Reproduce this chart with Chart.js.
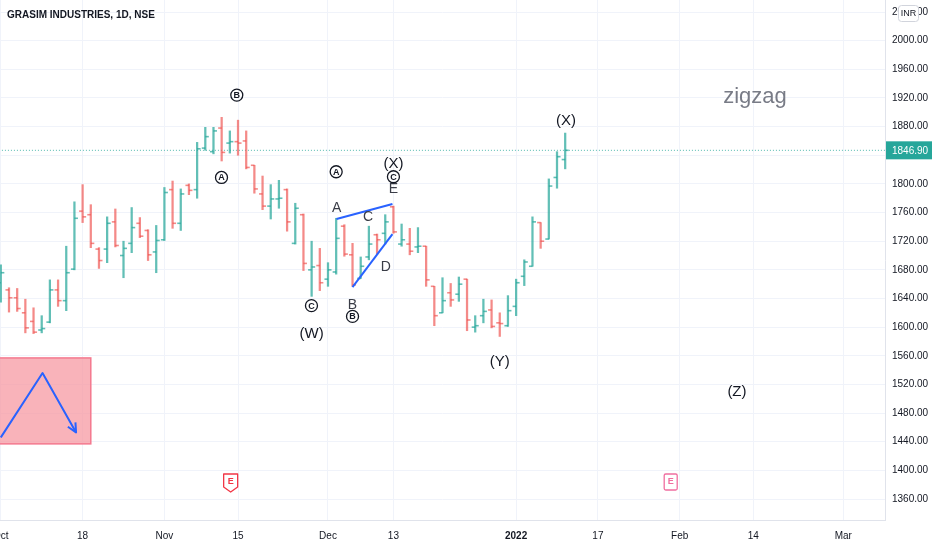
<!DOCTYPE html>
<html>
<head>
<meta charset="utf-8">
<script src="https://cdn.jsdelivr.net/npm/chart.js@4.4.1/dist/chart.umd.min.js"></script>
<style>
  html, body { margin: 0; padding: 0; background: #fff; }
</style>
</head>
<body>
<canvas id="ohlcChart" width="932" height="550"></canvas>
<script>
// GRASIM daily bars, Oct 2021 - Jan 2022
const dates = [
  '2021-10-01','2021-10-04','2021-10-05','2021-10-06','2021-10-07','2021-10-08','2021-10-11','2021-10-12','2021-10-13','2021-10-14',
  '2021-10-18','2021-10-19','2021-10-20','2021-10-21','2021-10-22','2021-10-25','2021-10-26','2021-10-27','2021-10-28','2021-10-29',
  '2021-11-01','2021-11-02','2021-11-03','2021-11-04','2021-11-08','2021-11-09','2021-11-10','2021-11-11','2021-11-12','2021-11-15',
  '2021-11-16','2021-11-17','2021-11-18','2021-11-22','2021-11-23','2021-11-24','2021-11-25','2021-11-26','2021-11-29','2021-11-30',
  '2021-12-01','2021-12-02','2021-12-03','2021-12-06','2021-12-07','2021-12-08','2021-12-09','2021-12-10','2021-12-13','2021-12-14',
  '2021-12-15','2021-12-16','2021-12-17','2021-12-20','2021-12-21','2021-12-22','2021-12-23','2021-12-24','2021-12-27','2021-12-28',
  '2021-12-29','2021-12-30','2021-12-31','2022-01-03','2022-01-04','2022-01-05','2022-01-06','2022-01-07','2022-01-10','2022-01-11'
];
const open = [
  1662,1652,1641,1620,1608,1596,1607,1652,1637,1681,
  1762,1757,1709,1709,1747,1700,1717,1745,1735,1705,
  1722,1792,1745,1798,1792,1850,1845,1878,1857,1859,
  1860,1826,1786,1769,1779,1792,1717,1757,1680,1686,
  1667,1677,1741,1701,1668,1698,1729,1731,1768,1716,
  1716,1712,1713,1657,1620,1648,1646,1667,1600,1616,
  1624,1606,1602,1629,1671,1685,1746,1723,1809,1834
];
const high = [
  1687,1655,1654,1639,1627,1616,1666,1666,1713,1775,
  1799,1771,1711,1754,1765,1720,1767,1753,1736,1742,
  1795,1804,1793,1800,1858,1879,1879,1893,1874,1889,
  1874,1826,1811,1799,1805,1793,1773,1758,1720,1710,
  1690,1752,1743,1717,1698,1741,1730,1757,1769,1744,
  1738,1739,1713,1657,1669,1661,1670,1667,1616,1639,
  1638,1620,1644,1667,1694,1754,1746,1807,1845,1871
];
const low = [
  1635,1621,1622,1592,1591,1592,1606,1629,1623,1680,
  1746,1711,1682,1690,1712,1669,1704,1725,1693,1676,
  1721,1738,1735,1785,1780,1847,1842,1832,1843,1840,
  1821,1787,1764,1751,1766,1734,1716,1679,1643,1651,
  1657,1674,1699,1657,1668,1694,1702,1716,1731,1713,
  1701,1704,1657,1602,1620,1629,1636,1595,1593,1606,
  1599,1587,1601,1616,1658,1685,1710,1723,1794,1821
];
const close = [
  1676,1641,1626,1599,1593,1598,1652,1637,1676,1752,
  1754,1717,1693,1745,1714,1710,1739,1727,1701,1721,
  1788,1745,1786,1791,1849,1866,1874,1844,1859,1857,
  1823,1793,1769,1779,1780,1747,1766,1689,1684,1662,
  1680,1724,1702,1659,1685,1716,1722,1747,1733,1722,
  1706,1713,1666,1616,1637,1638,1660,1610,1602,1622,
  1601,1605,1623,1662,1691,1747,1720,1797,1838,1846.9
];
const lastPrice = 1846.90;

// time axis: bar index where each label sits
const tickIdx = [0, 10, 20, 29, 40, 48, 63, 73, 83, 92, 103];
const tickLabels = ['Oct', '18', 'Nov', '15', 'Dec', '13', '2022', '17', 'Feb', '14', 'Mar'];
const priceTicks = [1360,1400,1440,1480,1520,1560,1600,1640,1680,1720,1760,1800,1840,1880,1920,1960,2000,2040];

// drawings on the chart, in [bar index, price]
const waveLabels = [[48.0, 1828, '(X)'], [69.1, 1888, '(X)'], [38.0, 1591, '(W)'], [61.0, 1551, '(Y)'], [90.0, 1509, '(Z)']];
const legLabels = [[48.0, 1793, 'E'], [41.05, 1766, 'A'], [44.9, 1754, 'C'], [47.07, 1684, 'D'], [43.0, 1631, 'B']];
const circledLabels = [[28.85, 1924, 'B'], [26.98, 1809, 'A'], [41.0, 1817, 'A'], [48.0, 1810, 'C'], [43.0, 1615, 'B'], [37.98, 1630, 'C']];
const trendLines = [[[41.04, 1751], [47.88, 1772]], [[43.0, 1656], [47.88, 1730]]];
const patternBox = [[-0.5, 1557], [11.0, 1437]];
const patternArrow = [[0, 1446], [5.1, 1536], [9.2, 1453]];
const earnings = [28.1, 81.9];

const FONT = "'Liberation Sans', Arial, sans-serif";
const UP = 'rgba(38,166,154,0.72)';
const DOWN = 'rgba(239,83,80,0.68)';
const barColors = close.map((c, i) => c >= open[i] ? UP : DOWN);

function roundRect(ctx, x, y, w, h, r) {
  ctx.beginPath();
  ctx.moveTo(x + r, y);
  ctx.lineTo(x + w - r, y);
  ctx.quadraticCurveTo(x + w, y, x + w, y + r);
  ctx.lineTo(x + w, y + h - r);
  ctx.quadraticCurveTo(x + w, y + h, x + w - r, y + h);
  ctx.lineTo(x + r, y + h);
  ctx.quadraticCurveTo(x, y + h, x, y + h - r);
  ctx.lineTo(x, y + r);
  ctx.quadraticCurveTo(x, y, x + r, y);
  ctx.closePath();
}

const drawings = {
  id: 'drawings',
  afterDatasetsDraw(chart) {
    const ctx = chart.ctx, xs = chart.scales.x, ys = chart.scales.y, area = chart.chartArea;
    const P = (pt) => [xs.getPixelForValue(pt[0]), ys.getPixelForValue(pt[1])];
    ctx.save();
    ctx.beginPath();
    ctx.rect(area.left, area.top, area.right - area.left, area.bottom - area.top);
    ctx.clip();

    // pink zigzag box
    const b0 = P(patternBox[0]), b1 = P(patternBox[1]);
    ctx.fillStyle = 'rgba(247,150,160,0.72)';
    ctx.fillRect(b0[0], b0[1], b1[0] - b0[0], b1[1] - b0[1]);
    ctx.strokeStyle = '#f4798f';
    ctx.lineWidth = 1.5;
    ctx.strokeRect(b0[0], b0[1], b1[0] - b0[0], b1[1] - b0[1]);

    ctx.strokeStyle = '#2962ff';
    ctx.lineWidth = 2;
    ctx.lineJoin = 'round';
    ctx.beginPath();
    patternArrow.forEach((pt, k) => { const q = P(pt); k ? ctx.lineTo(q[0], q[1]) : ctx.moveTo(q[0], q[1]); });
    ctx.stroke();
    const a1 = P(patternArrow[1]), a2 = P(patternArrow[2]);
    const ang = Math.atan2(a2[1] - a1[1], a2[0] - a1[0]);
    ctx.beginPath();
    ctx.moveTo(a2[0] - 10 * Math.cos(ang - 0.45), a2[1] - 10 * Math.sin(ang - 0.45));
    ctx.lineTo(a2[0], a2[1]);
    ctx.lineTo(a2[0] - 10 * Math.cos(ang + 0.45), a2[1] - 10 * Math.sin(ang + 0.45));
    ctx.stroke();

    // blue trend lines
    ctx.lineWidth = 2;
    trendLines.forEach(l => {
      const s = P(l[0]), e = P(l[1]);
      ctx.beginPath(); ctx.moveTo(s[0], s[1]); ctx.lineTo(e[0], e[1]); ctx.stroke();
    });

    // wave labels
    ctx.textAlign = 'center';
    ctx.textBaseline = 'middle';
    ctx.fillStyle = '#131722';
    ctx.font = '15px ' + FONT;
    waveLabels.forEach(w => { const q = P(w); ctx.fillText(w[2], q[0], q[1]); });
    ctx.fillStyle = '#3a3d47';
    ctx.font = '14px ' + FONT;
    legLabels.forEach(w => { const q = P(w); ctx.fillText(w[2], q[0], q[1]); });
    ctx.font = 'bold 9px ' + FONT;
    circledLabels.forEach(w => {
      const q = P(w);
      ctx.beginPath();
      ctx.arc(q[0], q[1], 6, 0, Math.PI * 2);
      ctx.strokeStyle = '#131722';
      ctx.lineWidth = 1.3;
      ctx.stroke();
      ctx.fillStyle = '#131722';
      ctx.fillText(w[2], q[0], q[1] + 0.5);
    });

    ctx.fillStyle = '#787b86';
    ctx.font = '22px ' + FONT;
    ctx.fillText('zigzag', xs.getPixelForValue(92.2), ys.getPixelForValue(1921));

    // earnings flags
    earnings.forEach((e, k) => {
      const x = xs.getPixelForValue(e), y = area.bottom - 46;
      const c = k === 0 ? '#f23645' : '#f06ea0';
      ctx.fillStyle = '#fff';
      ctx.strokeStyle = c;
      ctx.lineWidth = 1.3;
      if (k === 0) {
        ctx.beginPath();
        ctx.moveTo(x - 7, y); ctx.lineTo(x + 7, y); ctx.lineTo(x + 7, y + 13);
        ctx.lineTo(x, y + 18); ctx.lineTo(x - 7, y + 13); ctx.closePath();
      } else {
        roundRect(ctx, x - 6.5, y, 13, 16, 1.5);
      }
      ctx.fill(); ctx.stroke();
      ctx.fillStyle = c;
      ctx.font = 'bold 9px ' + FONT;
      ctx.fillText('E', x, y + 7.5);
    });
    ctx.restore();
  },
  afterDraw(chart) {
    const ctx = chart.ctx, ys = chart.scales.y, area = chart.chartArea;
    ctx.save();
    // title
    ctx.fillStyle = '#131722';
    ctx.font = 'bold 10px ' + FONT;
    ctx.textAlign = 'left';
    ctx.textBaseline = 'middle';
    ctx.fillText('GRASIM INDUSTRIES, 1D, NSE', area.left + 7, area.top + 15);

    // last price tag
    const y = ys.getPixelForValue(lastPrice);
    ctx.fillStyle = '#26a69a';
    ctx.fillRect(area.right + 1, y - 9, chart.width - area.right - 1, 18);
    ctx.fillStyle = '#fff';
    ctx.font = '10px ' + FONT;
    ctx.fillText(lastPrice.toFixed(2), area.right + 7, y + 0.5);

    // currency badge
    ctx.fillStyle = '#fff';
    ctx.strokeStyle = '#d1d4dc';
    ctx.lineWidth = 1;
    roundRect(ctx, area.right + 13.5, 5.5, 20, 16, 3);
    ctx.fill(); ctx.stroke();
    ctx.fillStyle = '#131722';
    ctx.font = '9px ' + FONT;
    ctx.textAlign = 'center';
    ctx.fillText('INR', area.right + 23.5, 14);
    ctx.restore();
  }
};

const ctx = document.getElementById('ohlcChart').getContext('2d');
const chart = new Chart(ctx, {
  type: 'bar',
  data: {
    datasets: [
      {
        type: 'bar',
        data: dates.map((d, i) => ({ x: i, y: [low[i], high[i]] })),
        backgroundColor: barColors,
        barThickness: 1.6,
        grouped: false,
        order: 3
      },
      {
        type: 'scatter',
        data: dates.map((d, i) => ({ x: i - 0.21, y: open[i] })),
        pointStyle: 'line',
        pointRadius: 1.8,
        pointHoverRadius: 1.8,
        borderColor: barColors,
        borderWidth: 1.6,
        order: 2
      },
      {
        type: 'scatter',
        data: dates.map((d, i) => ({ x: i + 0.21, y: close[i] })),
        pointStyle: 'line',
        pointRadius: 1.8,
        pointHoverRadius: 1.8,
        borderColor: barColors,
        borderWidth: 1.6,
        order: 2
      },
      {
        type: 'line',
        data: [{ x: -5, y: lastPrice }, { x: 120, y: lastPrice }],
        borderColor: 'rgba(38,166,154,0.8)',
        borderWidth: 1,
        borderDash: [1, 2],
        pointRadius: 0,
        order: 4
      }
    ]
  },
  options: {
    responsive: false,
    animation: false,
    events: [],
    layout: { padding: 0, autoPadding: false },
    plugins: { legend: { display: false }, tooltip: { enabled: false } },
    scales: {
      x: {
        type: 'linear',
        min: -0.1,
        max: 108.1,
        offset: false,
        grid: { color: '#f0f3fa', drawTicks: false, offset: false },
        border: { color: '#e0e3eb' },
        afterBuildTicks: s => { s.ticks = tickIdx.map(v => ({ value: v })); },
        afterFit: s => { s.height = 30; s.paddingLeft = 0; s.paddingRight = 0; },
        ticks: {
          autoSkip: false,
          maxRotation: 0,
          padding: 10,
          color: '#131722',
          font: c => ({ family: FONT, size: 10, weight: c.tick && c.tick.value === 63 ? 'bold' : 'normal' }),
          callback: v => tickLabels[tickIdx.indexOf(v)]
        }
      },
      y: {
        position: 'right',
        min: 1330.7,
        max: 2056.8,
        grid: { color: '#f0f3fa', drawTicks: false },
        border: { color: '#e0e3eb' },
        afterBuildTicks: s => { s.ticks = priceTicks.map(v => ({ value: v })); },
        afterFit: s => { s.width = 47; s.paddingTop = 0; s.paddingBottom = 0; },
        ticks: {
          padding: 7,
          color: '#131722',
          font: { family: FONT, size: 10 },
          callback: v => Number(v).toFixed(2)
        }
      }
    }
  },
  plugins: [drawings]
});
</script>
</body>
</html>
